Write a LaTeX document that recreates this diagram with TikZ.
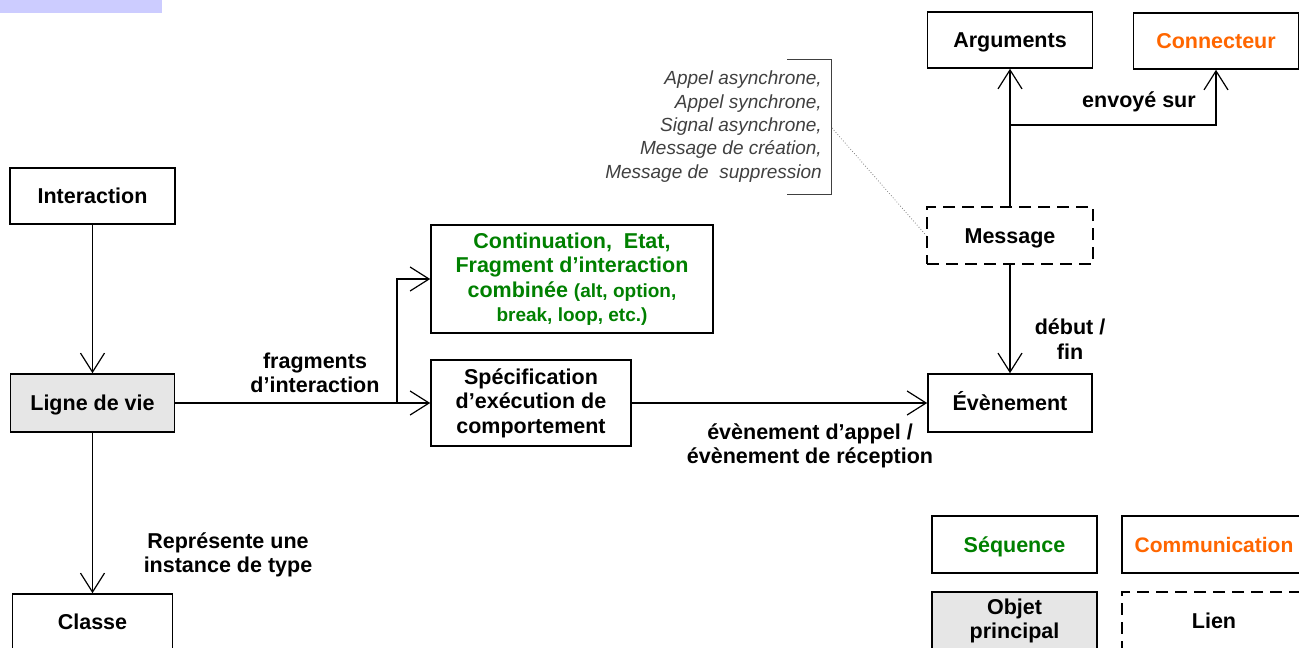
\documentclass[tikz,border=0pt]{standalone}
\usepackage{fontspec}
\setmainfont{Liberation Sans}
\usetikzlibrary{arrows.meta}
\definecolor{seqgreen}{RGB}{0,128,0}
\definecolor{comorange}{RGB}{255,102,0}
\definecolor{objgray}{RGB}{230,230,230}
\definecolor{barblue}{RGB}{204,204,255}
\definecolor{notegray}{RGB}{64,64,64}
\newcommand{\bigf}{\fontsize{21.5}{24.5}\selectfont\bfseries}
\newcommand{\smf}{\fontsize{19}{24.5}\selectfont}
\begin{document}
\begin{tikzpicture}[x=1pt,y=-1pt,
  box/.style={draw, line width=1.6pt, inner sep=0pt, align=center, font=\bigf},
  one/.style={text height=15.4pt, text depth=0pt},
  dbox/.style={box, dash pattern=on 12pt off 7pt},
  conn/.style={line width=1.2pt, -{Straight Barb[length=19pt,width=24pt,line width=1.2pt]}},
  lbl/.style={font=\bigf, align=center, inner sep=0pt}]
\useasboundingbox (0,0) rectangle (1299,648);
\fill[barblue] (0,0) rectangle (162,13);

% main nodes
\node[box, one, minimum width=165pt, minimum height=56pt] (inter) at (92.5,196) {Interaction};
\node[box, one, fill=objgray, minimum width=164pt, minimum height=58pt] (ligne) at (92.5,403) {Ligne de vie};
\node[box, one, minimum width=160pt, minimum height=56pt] (classe) at (92.5,622) {Classe};
\node[box, minimum width=282pt, minimum height=108pt, text=seqgreen] (cont) at (572,279)
  {Continuation,\ \ Etat,\\Fragment d’interaction\\combinée {\smf(alt, option,}\\{\smf break, loop, etc.)}};
\node[box, minimum width=200pt, minimum height=86pt] (spec) at (531,403)
  {Spécification\\d’exécution de\\comportement};
\node[box, one, minimum width=164pt, minimum height=58pt] (evt) at (1010,403) {Évènement};
\node[dbox, one, minimum width=166pt, minimum height=57pt] (msg) at (1010,235.5) {Message};
\node[box, one, minimum width=165pt, minimum height=56pt] (args) at (1010,40) {Arguments};
\node[box, one, minimum width=165pt, minimum height=56pt, text=comorange] (conx) at (1216,41) {Connecteur};

% legend
\node[box, one, minimum width=165pt, minimum height=57pt, text=seqgreen] (seq) at (1014.5,544.5) {Séquence};
\node[box, one, minimum width=184pt, minimum height=57pt, text=comorange, font=\fontsize{21}{24}\selectfont\bfseries] (comm) at (1214,544.5) {Communication};
\node[box, fill=objgray, minimum width=165pt, minimum height=58pt] (objp) at (1014.5,621) {Objet\\principal};
\node[dbox, one, minimum width=184pt, minimum height=58pt] (lien) at (1214,621) {Lien};

% connectors
\draw[conn] (inter.south) -- (ligne.north);
\draw[conn] (ligne.south) -- (classe.north);
\coordinate (b1) at (397,403);
\draw[conn] (ligne.east) -- (spec.west);
\draw[conn] (b1) |- (cont.west);
\draw[conn] (spec.east) -- (evt.west);
\draw[conn] (msg.south) -- (evt.north);
\coordinate (b2) at (1010,125);
\draw[conn] (msg.north) -- (args.south);
\draw[conn] (b2) -| (conx.south);

% labels
\node[lbl] (lfrag) at (315,373) {fragments\\d’interaction};
\node[lbl] (lrep) at (228,555) {Représente une\\instance de type};
\node[lbl] (ldeb) at (1070,339) {début /\\fin};
\node[lbl] (lenv) at (1139,102) {envoyé sur};
\node[lbl] (levt) at (810,446) {évènement d’appel /\\évènement de réception};

% note
\node[anchor=east, font=\fontsize{19}{23.3}\selectfont\itshape, text=notegray, align=right, inner sep=0pt] (note) at (822,126.5)
  {Appel asynchrone,\\Appel synchrone,\\Signal asynchrone,\\Message de création,\\Message de\ \ suppression};
\coordinate (brt) at (787,59);
\coordinate (brtr) at (831,59);
\coordinate (brbr) at (831,194);
\coordinate (brb) at (787,194);
\draw[line width=1pt, notegray] (brt) -- (brtr) -- (brbr) -- (brb);
\coordinate (brmid) at (832,128);
\draw[dotted, line width=0.8pt, gray] (brmid) -- (msg.west);
\end{tikzpicture}
\end{document}
